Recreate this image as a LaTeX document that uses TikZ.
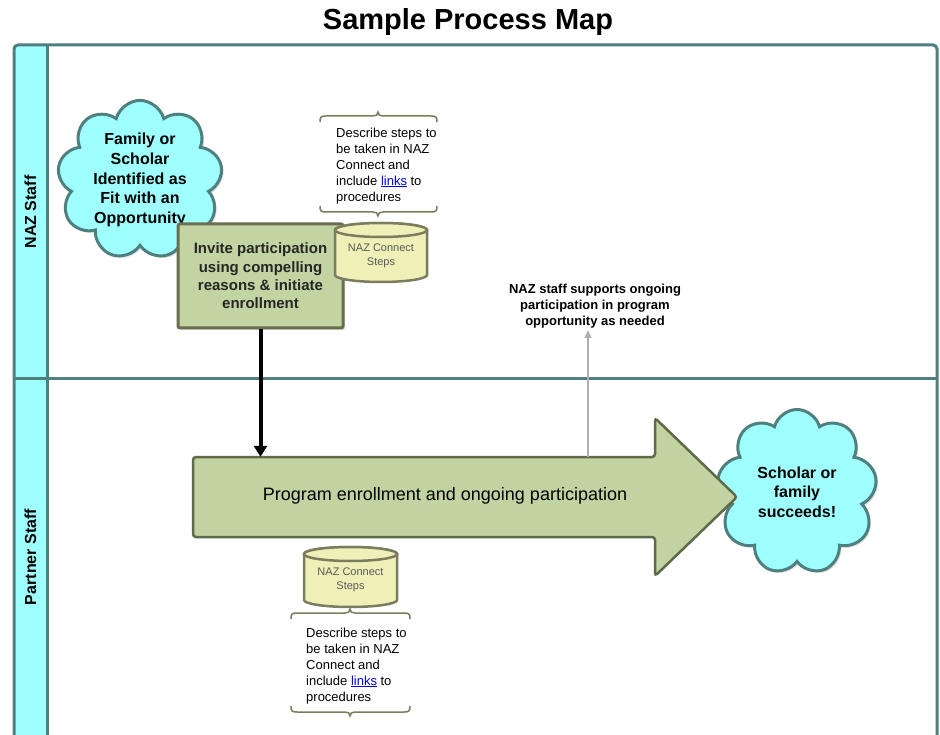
\documentclass[tikz,border=0pt]{standalone}
\usepackage{fontspec}
\setmainfont{Liberation Sans}
\usetikzlibrary{shapes.symbols,shadows,arrows.meta}
\definecolor{laneline}{HTML}{4F8080}
\definecolor{lanefill}{HTML}{9FFFFF}
\definecolor{boxfill}{HTML}{C1D4A2}
\definecolor{boxline}{HTML}{6B6D4E}
\definecolor{cylfill}{HTML}{EEF0B8}
\definecolor{cylline}{HTML}{7C7C5E}
\definecolor{arrowfill}{HTML}{C0D3A0}
\definecolor{arrowline}{HTML}{5F6A4B}
\definecolor{linkblue}{HTML}{0000EE}
\definecolor{graytip}{HTML}{B0B0B0}
\newcommand{\fs}[2]{\fontsize{#1}{#2}\selectfont}
\begin{document}
\begin{tikzpicture}[x=1pt,y=-1pt,
  lane/.style={draw=laneline, line width=3pt},
  lanelabel/.style={font=\bfseries\fs{16}{19}, inner sep=0pt},
  cloudnode/.style={cloud, cloud puffs=9, cloud ignores aspect, draw=laneline, line width=3pt,
     fill=lanefill, align=center, font=\bfseries\fs{16}{19.7}, inner sep=0pt,
     drop shadow={opacity=0.25, shadow xshift=2pt, shadow yshift=-2pt}},
  invitebox/.style={rectangle, draw=boxline, line width=3pt, fill=boxfill, align=center,
     font=\bfseries\fs{15}{18.3}, text=black!85, inner sep=0pt, rounded corners=2pt,
     drop shadow={opacity=0.25, shadow xshift=2pt, shadow yshift=-2pt}},
  cylbody/.style={draw=cylline, line width=2.5pt, fill=cylfill},
  cyltext/.style={align=center, font=\fs{11}{14}, text=black!65, inner sep=0pt},
  annot/.style={align=left, font=\fs{13}{16}, inner sep=0pt, anchor=north west},
  bracestyle/.style={draw=cylline, line width=1.5pt},
  bigarrow/.style={draw=arrowline, line width=2.5pt, fill=arrowfill, rounded corners=3pt},
  progtext/.style={font=\fs{18}{21}, inner sep=0pt},
  blackarrow/.style={draw=black, line width=4pt, -{Triangle[length=11pt,width=13pt]}},
  grayarrow/.style={draw=graytip, line width=1.3pt, -{Triangle[length=8pt,width=7pt]}},
  supporttext/.style={align=center, font=\bfseries\fs{13}{16}, inner sep=0pt}
]
\useasboundingbox (0,0) rectangle (940,735);

% title
\node[font=\bfseries\fs{29}{34}, anchor=base] (title) at (468,30) {Sample Process Map};

% swimlanes
\fill[lanefill] (14,45) rectangle (47,745);
\draw[lane, rounded corners=4pt] (14,745) -- (14,45) -- (937,45) -- (937,745);
\draw[lane] (47,45) -- (47,745);
\draw[lane] (14,378) -- (937,378);
\node[lanelabel, rotate=90] (naz) at (30.5,212) {NAZ Staff};
\node[lanelabel, rotate=90] (partner) at (30.5,557) {Partner Staff};

% first cloud
\node[cloudnode, minimum width=165pt, minimum height=150pt] (family) at (140,180)
  {Family or\\Scholar\\Identified as\\Fit with an\\Opportunity};

% invite box
\node[invitebox, minimum width=165pt, minimum height=104pt] (invite) at (260.5,276)
  {Invite participation\\using compelling\\reasons \& initiate\\enrollment};

% cylinder 1
\path[cylbody] (335,230) -- (335,275) arc[start angle=180, end angle=0, x radius=46, y radius=7]
  -- (427,230) arc[start angle=0, end angle=-180, x radius=46, y radius=7] -- cycle;
\draw[cylbody] (381,230) ellipse [x radius=46, y radius=7];
\node[cyltext] (cyl1) at (381,256) {NAZ Connect\\Steps};

% annotation 1
\draw[bracestyle] (320,122) .. controls (320,117) and (321,116) .. (326,116) -- (373,116)
  .. controls (376,116) and (378,115) .. (378,112) .. controls (378,115) and (380,116) .. (383,116)
  -- (431,116) .. controls (436,116) and (437,117) .. (437,122);
\draw[bracestyle] (320,206) .. controls (320,211) and (321,212) .. (326,212) -- (373,212)
  .. controls (376,212) and (378,213) .. (378,216) .. controls (378,213) and (380,212) .. (383,212)
  -- (431,212) .. controls (436,212) and (437,211) .. (437,206);
\node[annot] (note1) at (336,127.5)
  {Describe steps to\\be taken in NAZ\\Connect and\\include \textcolor{linkblue}{\underline{links}} to\\procedures};

% second cloud
\node[cloudnode, minimum width=160pt, minimum height=165pt] (succeed) at (797,492)
  {Scholar or\\family\\succeeds!};

% big arrow
\draw[bigarrow] (193,457) -- (655,457) -- (655,418) -- (737,497) -- (655,576) -- (655,537) -- (193,537) -- cycle;
\node[minimum width=462pt, minimum height=80pt, inner sep=0pt] (prog) at (424,497) {};
\node[progtext] (progt) at (445,496) {Program enrollment and ongoing participation};

% support label and gray arrow
\node[supporttext] (support) at (595,306)
  {NAZ staff supports ongoing\\participation in program\\opportunity as needed};
\coordinate (supstart) at (588,457);
\coordinate (supend) at (588,330);
\draw[grayarrow] (supstart) -- (supend);

% black arrow
\draw[blackarrow] (invite.south) -- (invite.south |- prog.north);

% cylinder 2
\path[cylbody] (304,554) -- (304,600) arc[start angle=180, end angle=0, x radius=46.5, y radius=7]
  -- (397,554) arc[start angle=0, end angle=-180, x radius=46.5, y radius=7] -- cycle;
\draw[cylbody] (350.5,554) ellipse [x radius=46.5, y radius=7];
\node[cyltext] (cyl2) at (350.5,580) {NAZ Connect\\Steps};

% annotation 2
\draw[bracestyle] (291,619) .. controls (291,614) and (292,613) .. (297,613) -- (345,613)
  .. controls (348,613) and (350,612) .. (350,609) .. controls (350,612) and (352,613) .. (355,613)
  -- (404,613) .. controls (409,613) and (410,614) .. (410,619);
\draw[bracestyle] (291,706) .. controls (291,711) and (292,712) .. (297,712) -- (345,712)
  .. controls (348,712) and (350,713) .. (350,716) .. controls (350,713) and (352,712) .. (355,712)
  -- (404,712) .. controls (409,712) and (410,711) .. (410,706);
\node[annot] (note2) at (306,627.5)
  {Describe steps to\\be taken in NAZ\\Connect and\\include \textcolor{linkblue}{\underline{links}} to\\procedures};
\end{tikzpicture}
\end{document}
